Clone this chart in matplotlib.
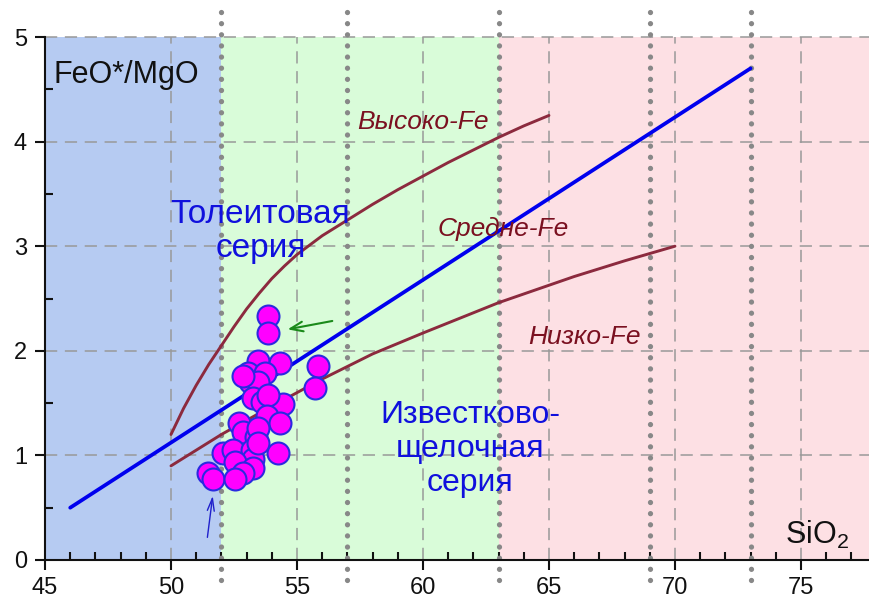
import matplotlib
matplotlib.use("Agg")
import matplotlib.pyplot as plt
from matplotlib.ticker import MultipleLocator

plt.rcParams['font.family'] = ['Liberation Sans', 'DejaVu Sans']
plt.rcParams['mathtext.fontset'] = 'custom'
plt.rcParams['mathtext.rm'] = 'Liberation Sans'

# Zone boundaries (SiO2)
zone_edges = [45, 52, 63, 77.74]
zone_colors = ['#b6cbf2', '#d9fcd9', '#fde0e4']
dotted_x = [52, 57, 63, 69, 73]

# Miyashiro tholeiitic / calc-alkaline divide
miya_x = [46, 73]
miya_y = [0.5, 4.7]

# High-Fe boundary
high_x = [50, 50.5, 51, 51.5, 52, 52.5, 53, 53.5, 54, 54.5, 55, 56, 57, 58, 59, 60, 61, 62, 63, 64, 65]
high_y = [1.2, 1.45, 1.67, 1.87, 2.05, 2.23, 2.40, 2.55, 2.69, 2.81, 2.92, 3.10, 3.25, 3.40, 3.54,
          3.67, 3.80, 3.92, 4.04, 4.15, 4.25]

# Low-Fe boundary
low_x = [50, 52, 54, 56, 58, 60, 63, 66, 68, 70]
low_y = [0.9, 1.2, 1.47, 1.73, 1.97, 2.17, 2.46, 2.71, 2.86, 3.0]

# Samples
sio2 = [53.85, 53.85, 53.45, 54.33, 53.06, 53.73, 55.83, 55.71, 53.13, 53.45,
        53.25, 53.61, 54.44, 53.85, 53.81, 54.33, 52.70, 52.86, 53.37, 53.45,
        54.25, 52.06, 52.46, 53.21, 53.25, 52.54, 53.25, 52.86, 51.47, 51.67,
        52.54, 53.45, 52.86]
ratio = [2.33, 2.17, 1.90, 1.88, 1.79, 1.79, 1.85, 1.64, 1.70, 1.70,
         1.55, 1.51, 1.49, 1.58, 1.38, 1.31, 1.31, 1.22, 1.18, 1.26,
         1.02, 1.02, 1.05, 1.05, 0.97, 0.94, 0.88, 0.83, 0.83, 0.77,
         0.77, 1.12, 1.76]

fig = plt.figure(figsize=(8.7, 6.02), dpi=100)
ax = fig.add_axes([45/870, 42/602, 825/870, 523/602])
ax.set_xlim(zone_edges[0], zone_edges[-1])
ax.set_ylim(0, 5)

for i, c in enumerate(zone_colors):
    ax.axvspan(zone_edges[i], zone_edges[i+1], color=c, zorder=0, lw=0)

for x in [50, 55, 60, 65, 70, 75]:
    ax.axvline(x, color='#999999', lw=1.1, dashes=(8, 5), zorder=1)
for y in [1, 2, 3, 4, 5]:
    ax.axhline(y, color='#999999', lw=1.1, dashes=(8, 5), zorder=1, clip_on=False)

for x in dotted_x:
    ax.plot([x, x], [-0.19, 5.24], color='#888888', lw=3.8,
            linestyle=(0, (0.01, 2.1)), dash_capstyle='round', zorder=2, clip_on=False)

ax.plot(high_x, high_y, color='#8c2a3e', lw=2.1, zorder=3, solid_capstyle='round', solid_joinstyle='round')
ax.plot(low_x, low_y, color='#8c2a3e', lw=2.1, zorder=3, solid_capstyle='round', solid_joinstyle='round')
ax.plot(miya_x, miya_y, color='#0000ee', lw=2.7, zorder=3, solid_capstyle='round')

ax.scatter(sio2, ratio, s=250, facecolor='#ff00ff', edgecolor='#2a2ae0', linewidth=1.5, zorder=4)

# arrows
ax.annotate('', xy=(54.52, 2.20), xytext=(56.51, 2.29),
            arrowprops=dict(arrowstyle='->,head_length=0.9,head_width=0.35', color='#1a8a1a', lw=1.5), zorder=5)
ax.annotate('', xy=(51.67, 0.64), xytext=(51.43, 0.19),
            arrowprops=dict(arrowstyle='->,head_length=0.9,head_width=0.25', color='#2020cc', lw=1.0), zorder=5)

# texts
ax.text(45.35, 4.64, 'FeO*/MgO', fontsize=22, color='#111111', ha='left', va='center', zorder=6)
ax.text(75.65, 0.24, 'SiO$_2$', fontsize=22, color='#111111', ha='center', va='center', zorder=6)
ax.text(53.55, 3.14, 'Толеитовая\nсерия', fontsize=24, color='#1010dd', ha='center', va='center',
        linespacing=1.1, zorder=6)
ax.text(61.87, 1.06, 'Известково-\nщелочная\nсерия', fontsize=23, color='#1010dd', ha='center', va='center',
        linespacing=1.17, zorder=6)
red = '#7a1020'
ax.text(60.0, 4.19, 'Высоко-Fe', fontsize=19, style='italic', color=red, ha='center', va='center', zorder=6)
ax.text(63.2, 3.16, 'Средне-Fe', fontsize=19, style='italic', color=red, ha='center', va='center', zorder=6)
ax.text(66.4, 2.13, 'Низко-Fe', fontsize=19, style='italic', color=red, ha='center', va='center', zorder=6)

# axes styling
for s in ['top', 'right']:
    ax.spines[s].set_visible(False)
for s in ['left', 'bottom']:
    ax.spines[s].set_linewidth(1.5)
    ax.spines[s].set_color('#111111')
    ax.spines[s].set_zorder(6)

ax.xaxis.set_major_locator(MultipleLocator(5))
ax.xaxis.set_minor_locator(MultipleLocator(1))
ax.yaxis.set_major_locator(MultipleLocator(1))
ax.yaxis.set_minor_locator(MultipleLocator(0.5))
ax.tick_params(which='major', direction='out', length=7, width=1.5, labelsize=17,
               colors='#111111', pad=6)
ax.tick_params(which='minor', direction='in', length=6, width=1.5, colors='#111111')
ax.tick_params(axis='x', which='major', pad=5)

fig.savefig('out.png', dpi=100)
